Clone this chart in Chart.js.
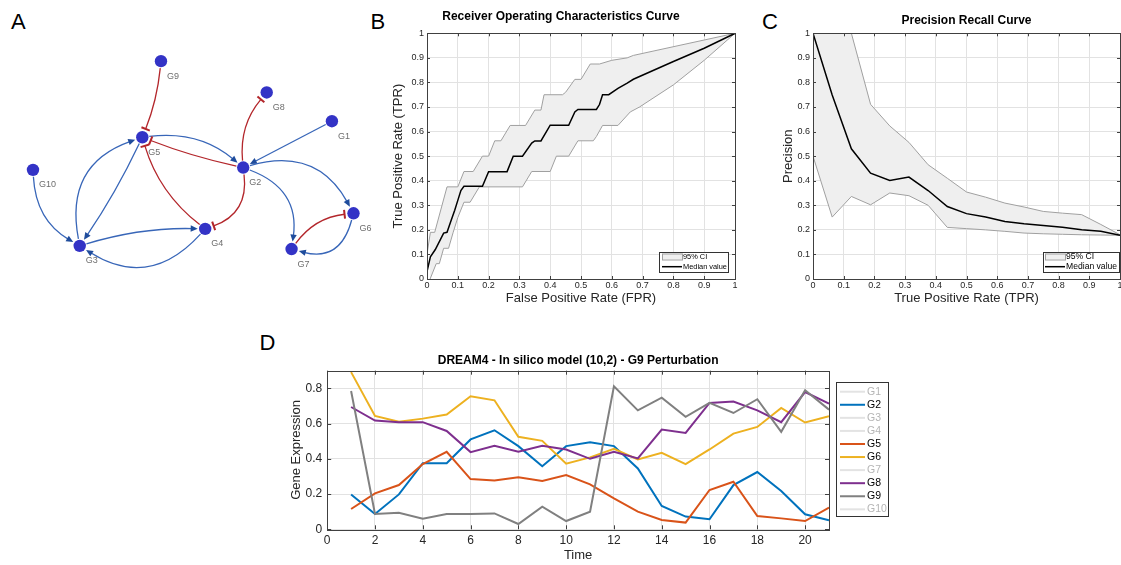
<!DOCTYPE html>
<html><head><meta charset="utf-8">
<script src="https://cdn.jsdelivr.net/npm/chart.js@4.4.1/dist/chart.umd.min.js"></script>
<style>
html,body{margin:0;padding:0;background:#fff;width:1121px;height:565px;overflow:hidden;position:relative;font-family:'Liberation Sans',Arial,Helvetica,sans-serif;}
canvas{position:absolute;}
.lbl{position:absolute;font-size:22px;line-height:22px;color:#000;}
</style></head><body>
<div class="lbl" style="left:11px;top:10.7px">A</div>
<div class="lbl" style="left:370.5px;top:10.7px">B</div>
<div class="lbl" style="left:762px;top:10.7px">C</div>
<div class="lbl" style="left:259.5px;top:332.4px">D</div>
<canvas id="cA" width="380" height="300" style="left:0;top:0"></canvas>
<canvas id="cB" width="380" height="320" style="left:370px;top:0"></canvas>
<canvas id="cC" width="400" height="320" style="left:760px;top:0"></canvas>
<canvas id="cD" width="650" height="225" style="left:260px;top:340px"></canvas>
<script>
// ---------------- DATA ----------------
// Panel A: network (layout coordinates, arbitrary units)
const nodeNames = ['G1','G2','G3','G4','G5','G6','G7','G8','G9','G10'];
const nodeX = [33.67, 24.5, 7.6, 20.57, 14.07, 35.9, 29.5, 26.93, 16.0, 2.77];
const nodeY = [12.0, 16.83, 25.0, 23.23, 13.67, 21.6, 25.33, 9.0, 5.73, 17.07];
const edgeFrom = ['G9','G5','G2','G1','G2','G2','G2','G6','G7','G10','G3','G5','G3','G4','G4','G2'];
const edgeTo   = ['G5','G2','G5','G2','G8','G6','G7','G7','G6','G3','G5','G3','G4','G3','G5','G4'];
const edgeType = ['inhibit','activate','inhibit','activate','inhibit','activate','activate','activate','inhibit','activate','activate','activate','activate','activate','inhibit','inhibit'];
const edgeBend = [0.07, 0.22, 0.04, 0.0, 0.21, 0.4, 0.4, 0.5, 0.22, -0.27, 0.43, 0.04, 0.08, 0.42, 0.16, 0.4];

// Panel B: ROC curve
const rocMedFpr = [0, 0.011, 0.027, 0.054, 0.065, 0.076, 0.09, 0.1, 0.11, 0.12, 0.18, 0.2, 0.26, 0.28, 0.31, 0.34, 0.35, 0.37, 0.40, 0.46, 0.48, 0.49, 0.55, 0.56, 0.57, 0.59, 0.62, 0.65, 0.67, 0.8, 0.9, 1];
const rocMedTpr = [0.03, 0.09, 0.12, 0.187, 0.19, 0.23, 0.28, 0.32, 0.36, 0.377, 0.377, 0.437, 0.437, 0.5, 0.5, 0.553, 0.562, 0.562, 0.626, 0.626, 0.68, 0.69, 0.69, 0.71, 0.75, 0.75, 0.776, 0.797, 0.813, 0.885, 0.939, 1];
const rocUpFpr = [0, 0.011, 0.025, 0.065, 0.1, 0.12, 0.15, 0.18, 0.2, 0.22, 0.24, 0.27, 0.32, 0.35, 0.37, 0.38, 0.44, 0.45, 0.48, 0.5, 0.53, 0.56, 0.6, 0.65, 0.67, 1];
const rocUpTpr = [0.1, 0.19, 0.19, 0.375, 0.375, 0.4375, 0.4375, 0.5, 0.5, 0.5625, 0.5625, 0.625, 0.625, 0.6875, 0.6875, 0.75, 0.75, 0.76, 0.8125, 0.8125, 0.875, 0.875, 0.89, 0.9, 0.91, 1];
const rocLoFpr = [0.01, 0.03, 0.04, 0.054, 0.07, 0.085, 0.1, 0.12, 0.14, 0.17, 0.31, 0.34, 0.4, 0.42, 0.46, 0.49, 0.54, 0.55, 0.57, 0.62, 0.66, 0.69, 0.8, 0.9, 1];
const rocLoTpr = [0, 0.0625, 0.0625, 0.125, 0.125, 0.19, 0.25, 0.3125, 0.3125, 0.375, 0.375, 0.4375, 0.4375, 0.5, 0.5, 0.5625, 0.5625, 0.58, 0.625, 0.625, 0.68, 0.70, 0.79, 0.89, 1];

// Panel C: precision-recall curve
const prTpr = [0, 0.0625, 0.125, 0.1875, 0.25, 0.3125, 0.375, 0.4375, 0.5, 0.5625, 0.625, 0.6875, 0.75, 0.8125, 0.875, 0.9375, 1];
const prMedian = [1, 0.749, 0.53, 0.431, 0.401, 0.415, 0.36, 0.295, 0.266, 0.252, 0.234, 0.225, 0.218, 0.211, 0.2, 0.194, 0.178];
const prUpper = [1, 1, 1, 0.711, 0.623, 0.556, 0.465, 0.41, 0.354, 0.333, 0.309, 0.293, 0.275, 0.268, 0.262, 0.222, 0.18];
const prLower = [0.5, 0.252, 0.336, 0.302, 0.35, 0.339, 0.3, 0.21, 0.205, 0.2, 0.194, 0.187, 0.184, 0.182, 0.18, 0.179, 0.178];

// Panel D: time series
const timePoints = [1,2,3,4,5,6,7,8,9,10,11,12,13,14,15,16,17,18,19,20,21];
const geneLabels = ['G1','G2','G3','G4','G5','G6','G7','G8','G9','G10'];
const g2Expr = [0.198,0.087,0.198,0.375,0.375,0.51,0.562,0.472,0.358,0.472,0.494,0.472,0.345,0.132,0.072,0.057,0.251,0.325,0.217,0.085,0.051];
const g5Expr = [0.115,0.204,0.251,0.37,0.44,0.285,0.277,0.296,0.274,0.308,0.255,0.175,0.1,0.053,0.038,0.223,0.27,0.075,0.062,0.047,0.123];
const g6Expr = [0.892,0.643,0.611,0.628,0.651,0.755,0.732,0.525,0.502,0.372,0.408,0.457,0.396,0.434,0.37,0.453,0.543,0.581,0.689,0.606,0.642];
const g8Expr = [0.694,0.617,0.608,0.608,0.558,0.438,0.474,0.44,0.474,0.453,0.4,0.44,0.402,0.566,0.547,0.717,0.725,0.675,0.608,0.779,0.713];
const g9Expr = [0.785,0.087,0.094,0.06,0.087,0.087,0.09,0.03,0.128,0.047,0.1,0.811,0.675,0.747,0.638,0.717,0.66,0.738,0.553,0.789,0.679];
const shownSeries = {G2: g2Expr, G5: g5Expr, G6: g6Expr, G8: g8Expr, G9: g9Expr};

// ---------------- STYLES / HELPERS ----------------
const FONT = "'Liberation Sans', Arial, Helvetica, sans-serif";
Chart.defaults.font.family = FONT;
Chart.defaults.color = '#262626';
Chart.defaults.animation = false;
const geneColors = {G2:'#0072bd', G5:'#d95319', G6:'#edb120', G8:'#7e2f8e', G9:'#808080'};

const zip = (xs, ys) => xs.map((x, i) => ({x, y: ys[i]}));
const fmt = v => String(+Number(v).toFixed(2));
function fixAxis(size, horiz) {
  return function(scale) {
    if (horiz) scale.height = size; else scale.width = size;
    scale.paddingLeft = 0; scale.paddingRight = 0; scale.paddingTop = 0; scale.paddingBottom = 0;
  };
}
function framePlugin(tickLen, color) { return {
  id: 'frame',
  afterDatasetsDraw(chart) {
    const {ctx, chartArea: a, scales} = chart;
    ctx.save();
    ctx.strokeStyle = color; ctx.lineWidth = 1;
    ctx.beginPath();
    scales.x.ticks.forEach(tk => {
      const p = Math.round(scales.x.getPixelForValue(tk.value)) + 0.5;
      ctx.moveTo(p, a.bottom); ctx.lineTo(p, a.bottom - tickLen);
      ctx.moveTo(p, a.top); ctx.lineTo(p, a.top + tickLen);
    });
    scales.y.ticks.forEach(tk => {
      const p = Math.round(scales.y.getPixelForValue(tk.value)) + 0.5;
      ctx.moveTo(a.left, p); ctx.lineTo(a.left + tickLen, p);
      ctx.moveTo(a.right, p); ctx.lineTo(a.right - tickLen, p);
    });
    ctx.stroke();
    ctx.strokeRect(Math.round(a.left) + 0.5, Math.round(a.top) + 0.5, Math.round(a.right - a.left), Math.round(a.bottom - a.top));
    ctx.restore();
  }
}; }
function boxLegend(cfg) { return {
  id: 'boxLegend',
  afterDraw(chart) {
    const {ctx, chartArea: a} = chart;
    const items = chart.data.datasets.filter(d => d.label);
    const box = cfg.box(a);
    ctx.save();
    ctx.fillStyle = '#fff'; ctx.fillRect(box.x, box.y, box.w, box.h);
    ctx.strokeStyle = '#333'; ctx.lineWidth = 1;
    ctx.strokeRect(Math.round(box.x) + 0.5, Math.round(box.y) + 0.5, Math.round(box.w), Math.round(box.h));
    ctx.font = cfg.fontSize + 'px ' + FONT;
    ctx.textBaseline = 'middle'; ctx.textAlign = 'left';
    items.forEach((d, i) => {
      const cy = box.y + cfg.firstRow + i * cfg.rowGap;
      const x0 = box.x + cfg.sampleX0, x1 = box.x + cfg.sampleX1;
      if (d.legendType === 'patch') {
        ctx.fillStyle = d.backgroundColor; ctx.fillRect(x0, cy - 3, x1 - x0, 6);
        ctx.strokeStyle = d.borderColor; ctx.lineWidth = 1; ctx.strokeRect(x0 + 0.5, cy - 3 + 0.5, x1 - x0, 6);
      } else {
        ctx.strokeStyle = d.hidden ? '#e3e3e3' : d.borderColor;
        ctx.lineWidth = d.borderWidth;
        ctx.beginPath(); ctx.moveTo(x0, cy); ctx.lineTo(x1, cy); ctx.stroke();
      }
      ctx.fillStyle = d.hidden ? '#b5b5b5' : '#000';
      ctx.fillText(d.label, box.x + cfg.textX, cy);
    });
    ctx.restore();
  }
}; }
function networkPlugin() { return {
  id: 'network',
  beforeDatasetsDraw(chart) {
    const {ctx} = chart, xs = chart.scales.x, ys = chart.scales.y;
    const P = n => { const i = nodeNames.indexOf(n); return {x: xs.getPixelForValue(nodeX[i]), y: ys.getPixelForValue(nodeY[i])}; };
    const unit = (p, q) => { const l = Math.hypot(q.x - p.x, q.y - p.y); return {x: (q.x - p.x) / l, y: (q.y - p.y) / l}; };
    ctx.save();
    edgeFrom.forEach((f, k) => {
      const a = P(f), b = P(edgeTo[k]);
      const inh = edgeType[k] === 'inhibit';
      const dx = b.x - a.x, dy = b.y - a.y, bend = edgeBend[k];
      const c = {x: (a.x + b.x) / 2 + bend * dy, y: (a.y + b.y) / 2 - bend * dx};
      const ua = unit(a, c), ub = unit(b, c);
      const s = {x: a.x + ua.x * 7, y: a.y + ua.y * 7};
      const rEnd = inh ? 9 : 7.5;
      const e = {x: b.x + ub.x * rEnd, y: b.y + ub.y * rEnd};
      const d = {x: -ub.x, y: -ub.y};
      const col = inh ? '#b3262b' : '#3866b8';
      ctx.strokeStyle = col; ctx.lineWidth = 1.3;
      const le = inh ? e : {x: e.x - d.x * 5, y: e.y - d.y * 5};
      ctx.beginPath(); ctx.moveTo(s.x, s.y); ctx.quadraticCurveTo(c.x, c.y, le.x, le.y); ctx.stroke();
      if (inh) {
        ctx.lineWidth = 2;
        ctx.beginPath();
        ctx.moveTo(e.x - d.y * 4.5, e.y + d.x * 4.5); ctx.lineTo(e.x + d.y * 4.5, e.y - d.x * 4.5);
        ctx.stroke();
      } else {
        ctx.fillStyle = '#1f4c9c';
        ctx.beginPath(); ctx.moveTo(e.x, e.y);
        ctx.lineTo(e.x - d.x * 7 - d.y * 3.2, e.y - d.y * 7 + d.x * 3.2);
        ctx.lineTo(e.x - d.x * 7 + d.y * 3.2, e.y - d.y * 7 - d.x * 3.2);
        ctx.closePath(); ctx.fill();
      }
    });
    ctx.restore();
  },
  afterDatasetsDraw(chart) {
    const {ctx} = chart, xs = chart.scales.x, ys = chart.scales.y;
    ctx.save();
    ctx.font = '9px ' + FONT; ctx.fillStyle = '#6e6e6e';
    ctx.textBaseline = 'middle'; ctx.textAlign = 'left';
    nodeNames.forEach((n, i) => {
      ctx.fillText(n, xs.getPixelForValue(nodeX[i]) + 6, ys.getPixelForValue(nodeY[i]) + 15);
    });
    ctx.restore();
  }
}; }

// ---------------- PANEL A ----------------
new Chart(document.getElementById('cA'), {
  type: 'scatter',
  data: { datasets: [{ data: zip(nodeX, nodeY), pointRadius: 6.2, pointHoverRadius: 6.2, backgroundColor: '#3333c6', borderWidth: 0 }] },
  options: {
    responsive: false, animation: false,
    layout: { padding: 0 },
    scales: { x: { display: false, min: 0, max: 38 }, y: { display: false, min: 0, max: 30, reverse: true } },
    plugins: { legend: { display: false }, tooltip: { enabled: false } }
  },
  plugins: [networkPlugin()]
});

// ---------------- PANEL B ----------------
function curveScales(xTitle, yTitle, yTitlePad, yWidth) {
  return {
    x: { type: 'linear', min: 0, max: 1,
      ticks: { stepSize: 0.1, padding: 1, font: { size: 9 }, color: '#262626', callback: fmt, maxRotation: 0, autoSkip: false },
      grid: { color: '#e2e2e2', drawTicks: false }, border: { display: false },
      title: { display: true, text: xTitle, font: { size: 13 }, color: '#262626', padding: { top: 0, bottom: 13.9 } },
      afterFit: fixAxis(41, true) },
    y: { type: 'linear', min: 0, max: 1,
      ticks: { stepSize: 0.1, padding: 3, font: { size: 9 }, color: '#262626', callback: fmt, autoSkip: false },
      grid: { color: '#e2e2e2', drawTicks: false }, border: { display: false },
      title: { display: true, text: yTitle, font: { size: 13 }, color: '#262626', padding: { top: yTitlePad, bottom: 0 } },
      afterFit: fixAxis(yWidth, false) }
  };
}
new Chart(document.getElementById('cB'), {
  type: 'line',
  data: { datasets: [
    { label: '95% CI', legendType: 'patch', data: zip(rocUpFpr, rocUpTpr), borderColor: '#a0a0a0', borderWidth: 1, backgroundColor: '#efefef', fill: '+1', pointRadius: 0, tension: 0, order: 3 },
    { label: '', data: zip(rocLoFpr, rocLoTpr), borderColor: '#a0a0a0', borderWidth: 1, fill: false, pointRadius: 0, tension: 0, order: 2 },
    { label: 'Median value', data: zip(rocMedFpr, rocMedTpr), borderColor: '#000', borderWidth: 1.5, fill: false, pointRadius: 0, tension: 0, order: 1 }
  ]},
  options: {
    responsive: false, animation: false,
    layout: { padding: { left: 17, right: 15, top: 0, bottom: 0 } },
    plugins: { legend: { display: false }, tooltip: { enabled: false }, filler: { drawTime: 'beforeDatasetsDraw' },
      title: { display: true, text: 'Receiver Operating Characteristics Curve', font: { size: 12, weight: 'bold' }, color: '#000', padding: { top: 9.5, bottom: 9.4 }, fullSize: true } },
    scales: curveScales('False Positive Rate (FPR)', 'True Positive Rate (TPR)', 3.7, 40)
  },
  plugins: [framePlugin(3, '#404040'), boxLegend({ box: a => ({x: a.right - 76, y: a.bottom - 27, w: 69, h: 20}), fontSize: 7.4, firstRow: 4.5, rowGap: 10.2, sampleX0: 3, sampleX1: 23, textX: 24 })]
});

// ---------------- PANEL C ----------------
new Chart(document.getElementById('cC'), {
  type: 'line',
  data: { datasets: [
    { label: '95% CI', legendType: 'patch', data: zip(prTpr, prUpper), borderColor: '#a0a0a0', borderWidth: 1, backgroundColor: '#efefef', fill: '+1', pointRadius: 0, tension: 0, order: 3 },
    { label: '', data: zip(prTpr, prLower), borderColor: '#a0a0a0', borderWidth: 1, fill: false, pointRadius: 0, tension: 0, order: 2 },
    { label: 'Median value', data: zip(prTpr, prMedian), borderColor: '#000', borderWidth: 1.5, fill: false, pointRadius: 0, tension: 0, order: 1 }
  ]},
  options: {
    responsive: false, animation: false,
    layout: { padding: { left: 0, right: 40, top: 0, bottom: 0 } },
    plugins: { legend: { display: false }, tooltip: { enabled: false }, filler: { drawTime: 'beforeDatasetsDraw' },
      title: { display: true, text: 'Precision Recall Curve', font: { size: 12, weight: 'bold' }, color: '#000', padding: { top: 13.3, bottom: 5.6 }, fullSize: false } },
    scales: curveScales('True Positive Rate (TPR)', 'Precision', 20.2, 53)
  },
  plugins: [framePlugin(3, '#404040'), boxLegend({ box: a => ({x: a.right - 77, y: a.bottom - 27, w: 76, h: 20}), fontSize: 8.6, firstRow: 4.5, rowGap: 10.2, sampleX0: 2, sampleX1: 22, textX: 23 })]
});

// ---------------- PANEL D ----------------
const dDatasets = geneLabels.map((g, i) => {
  const vals = shownSeries[g];
  return {
    label: g,
    data: vals ? zip(timePoints, vals) : [],
    hidden: !vals,
    borderColor: vals ? geneColors[g] : '#e3e3e3',
    backgroundColor: vals ? geneColors[g] : '#e3e3e3',
    borderWidth: 2, pointRadius: 0, tension: 0, fill: false,
    order: 20 - i
  };
});
new Chart(document.getElementById('cD'), {
  type: 'line',
  data: { datasets: dDatasets },
  options: {
    responsive: false, animation: false,
    layout: { padding: { left: 0, right: 81, top: 0, bottom: 0 } },
    plugins: { legend: { display: false }, tooltip: { enabled: false },
      title: { display: true, text: 'DREAM4 - In silico model (10,2) - G9 Perturbation', font: { size: 12, weight: 'bold' }, color: '#000', padding: { top: 13.8, bottom: 2.5 }, fullSize: false } },
    scales: {
      x: { type: 'linear', min: 0, max: 21,
        ticks: { stepSize: 2, includeBounds: false, padding: 4.5, font: { size: 12 }, color: '#262626', callback: fmt, maxRotation: 0, autoSkip: false },
        grid: { color: '#e2e2e2', drawTicks: false }, border: { display: false },
        title: { display: true, text: 'Time', font: { size: 13 }, color: '#262626', padding: { top: 0, bottom: 2.2 } },
        afterFit: fixAxis(35.7, true) },
      y: { type: 'linear', min: 0, max: 0.9,
        ticks: { stepSize: 0.2, includeBounds: false, padding: 5, font: { size: 12 }, color: '#262626', callback: fmt, autoSkip: false },
        grid: { color: '#e2e2e2', drawTicks: false }, border: { display: false },
        title: { display: true, text: 'Gene Expression', font: { size: 13 }, color: '#262626', padding: { top: 28.2, bottom: 0 } },
        afterFit: fixAxis(67.2, false) }
    }
  },
  plugins: [framePlugin(4, '#404040'), boxLegend({ box: a => ({x: a.right + 7, y: a.top + 11.3, w: 52, h: 134}), fontSize: 10.5, firstRow: 9.7, rowGap: 13.07, sampleX0: 4, sampleX1: 29, textX: 31 })]
});
</script>
</body></html>
